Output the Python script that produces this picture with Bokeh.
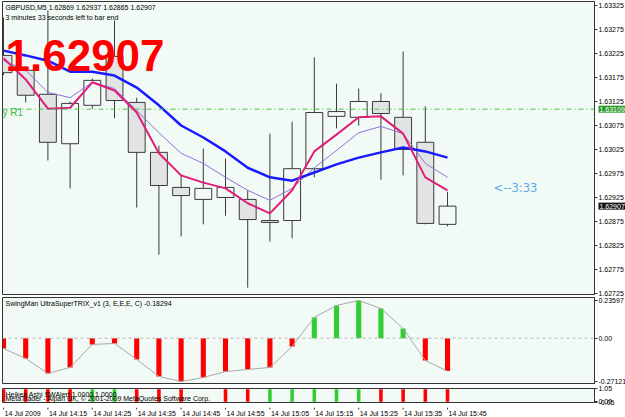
from bokeh.plotting import figure
from bokeh.layouts import column
from bokeh.models import FixedTicker, PrintfTickFormatter, Span, Label, Range1d, ColumnDataSource
from bokeh.embed import file_html
from bokeh.resources import INLINE
from bokeh.core.properties import value

# ---------------- data ----------------
bars = list(range(21))
time_tick_bars = [0, 2, 4, 6, 8, 10, 12, 14, 16, 18, 20]
time_tick_labels = ["14 Jul 2009", "14 Jul 14:15", "14 Jul 14:25", "14 Jul 14:35", "14 Jul 14:45",
                    "14 Jul 14:55", "14 Jul 15:05", "14 Jul 15:15", "14 Jul 15:25", "14 Jul 15:35",
                    "14 Jul 15:45"]

opens = [1.63221, 1.63190, 1.63140, 1.63037, 1.63117, 1.63219, 1.63123, 1.63019, 1.62946, 1.62921, 1.62925,
         1.62921, 1.62877, 1.62877, 1.62985, 1.63094, 1.63092, 1.63125, 1.63092, 1.63040, 1.62869]
highs = [1.63300, 1.63198, 1.63315, 1.63125, 1.63173, 1.63294, 1.63133, 1.63033, 1.62971, 1.63027, 1.63006,
         1.62940, 1.63058, 1.63083, 1.63217, 1.63162, 1.63152, 1.63142, 1.63229, 1.63115, 1.62937]
lows = [1.63180, 1.63123, 1.63002, 1.62944, 1.63110, 1.63090, 1.62904, 1.62806, 1.62844, 1.62869, 1.62887,
        1.62737, 1.62833, 1.62840, 1.62967, 1.63069, 1.63075, 1.62962, 1.62971, 1.62869, 1.62865]
closes = [1.63185, 1.63138, 1.63040, 1.63121, 1.63169, 1.63127, 1.63019, 1.62950, 1.62929, 1.62944, 1.62946,
          1.62879, 1.62873, 1.62985, 1.63102, 1.63104, 1.63125, 1.63100, 1.63025, 1.62871, 1.62907]

ma_blue = [1.63231, 1.63221, 1.63210, 1.63187, 1.63187, 1.63179, 1.63154, 1.63117, 1.63075, 1.63050, 1.63021,
           1.62987, 1.62967, 1.62960, 1.62977, 1.62994, 1.63008, 1.63019, 1.63029, 1.63021, 1.63008]
ma_pink = [1.63215, 1.63171, 1.63110, 1.63112, 1.63165, 1.63148, 1.63102, 1.63017, 1.62971, 1.62956, 1.62944,
           1.62913, 1.62892, 1.62940, 1.63021, 1.63056, 1.63092, 1.63094, 1.63058, 1.62967, 1.62940]
ma_purple = [1.63210, 1.63190, 1.63144, 1.63133, 1.63165, 1.63152, 1.63106, 1.63060, 1.63017, 1.62996, 1.62967,
             1.62940, 1.62919, 1.62944, 1.62987, 1.63023, 1.63060, 1.63073, 1.63058, 1.62996, 1.62967]

r1_level = 1.63109
price_ticks = [1.63325, 1.63275, 1.63225, 1.63175, 1.63125, 1.63075, 1.63025, 1.62975, 1.62925,
               1.62875, 1.62825, 1.62775, 1.62725]

trix = [-0.0645, -0.127, -0.221, -0.183, -0.039, -0.033, -0.133, -0.240, -0.27121, -0.246, -0.209,
        -0.196, -0.183, -0.052, 0.130, 0.205, 0.23597, 0.186, 0.061, -0.140, -0.206]
trix_title_value = -0.18294
trix_ticks = [0.23597, 0.0, -0.27121]

ha_signal = [-1, -1, -1, -1, 1, 1, -1, -1, -1, 0, -1, -1, 1, 1, 1, 1, 1, -1, -1, -1, -1]
ha_ticks = [1.05, 0.0, -0.05]

symbol = "GBPUSD,M5"
time_left = "3 minutes 33 seconds left to bar end"
countdown = "<--3:33"

# ---------------- style ----------------
BG = "#f2faf5"
FONT = "Liberation Sans"
FRAME_W = 592
X0, X1 = -0.045, 26.62


def style_right_axis(p, ticks, overrides=None, fmt="%.5f"):
    ax = p.yaxis[0]
    ax.ticker = FixedTicker(ticks=ticks)
    ax.formatter = PrintfTickFormatter(format=fmt)
    if overrides:
        ax.major_label_overrides = overrides
    ax.major_label_text_font = FONT
    ax.major_label_text_font_size = "7px"
    ax.major_label_text_color = "#000000"
    ax.major_tick_out = 3
    ax.major_tick_in = 0
    ax.minor_tick_out = 0
    ax.minor_tick_in = 0
    ax.major_label_standoff = 1
    ax.axis_line_color = "#333333"
    ax.major_tick_line_color = "#333333"
    p.xgrid.grid_line_color = None
    p.ygrid.grid_line_color = None


x_range = Range1d(X0, X1)

# ---------------- main price panel ----------------
p1 = figure(frame_width=FRAME_W, frame_height=293, x_range=x_range,
            y_range=Range1d(1.627229, 1.633333), output_backend="svg", toolbar_location=None,
            y_axis_location="right", x_axis_location=None,
            min_border_left=2, min_border_top=1, min_border_bottom=3, min_border_right=0,
            background_fill_color=BG, border_fill_color="white", outline_line_color="#333333")
style_right_axis(p1, price_ticks)

body_top = [max(o, c) for o, c in zip(opens, closes)]
body_bot = [min(o, c) for o, c in zip(opens, closes)]
body_fill = [BG if c >= o else "#e2e4e3" for o, c in zip(opens, closes)]
src = ColumnDataSource(dict(x=bars, o=opens, h=highs, l=lows, c=closes,
                            top=body_top, bot=body_bot, fill=body_fill))

p1.segment(x0="x", x1="x", y0="l", y1="h", source=src, line_color="#3a3a3a", line_width=1)
p1.vbar(x="x", top="top", bottom="bot", width=0.76, source=src, fill_color="fill",
        line_color="#3a3a3a", line_width=1)

p1.add_layout(Span(location=r1_level, dimension="width", line_color="#4cc24c",
                   line_width=1, line_dash="5 3 1 3"))

p1.line(bars, ma_purple, line_color="#9370db", line_width=1)
p1.line(bars, ma_blue, line_color="#1a1aff", line_width=2.5)
p1.line(bars, ma_pink, line_color="#e01e78", line_width=2)

# texts on main
p1.add_layout(Label(x=3, y=287, x_units="screen", y_units="screen",
                    text=f"{symbol}  {opens[-1]:.5f} {highs[-1]:.5f} {lows[-1]:.5f} {closes[-1]:.5f}",
                    text_font=FONT, text_font_size="7px", text_color="#000000",
                    text_baseline="middle", text_align="left"))
p1.add_layout(Label(x=3, y=277, x_units="screen", y_units="screen", text=time_left,
                    text_font=FONT, text_font_size="7px", text_color="#000000",
                    text_baseline="middle", text_align="left"))
p1.add_layout(Label(x=3, y=239, x_units="screen", y_units="screen", text=f"{closes[-1]:.5f}",
                    text_font=FONT, text_font_size="44px", text_font_style="bold",
                    text_color="#ff0000", text_baseline="middle", text_align="left"))
p1.add_layout(Label(x=0, y=182, x_units="screen", y_units="screen", text="y R1",
                    text_font=FONT, text_font_size="10px", text_color="#44b444",
                    text_baseline="middle", text_align="left"))
p1.add_layout(Label(x=491, y=107, x_units="screen", y_units="screen", text=countdown,
                    text_font="DejaVu Sans", text_font_size="11.5px", text_color="#55aaee",
                    text_baseline="middle", text_align="left"))

# price boxes on the axis strip (side panel so they are not clipped to the frame)
box_x = X1 + (4.0 / FRAME_W) * (X1 - X0)
p1.add_layout(Label(x=box_x, y=r1_level, x_units="data", y_units="data",
                    text=f"{r1_level:.5f}", text_font=FONT, text_font_size="7px",
                    text_color="#ffffff", background_fill_color="#2a9a2a",
                    text_baseline="middle", text_align="left", padding=1), "right")
p1.add_layout(Label(x=box_x, y=closes[-1], x_units="data", y_units="data",
                    text=f"{closes[-1]:.5f}", text_font=FONT, text_font_size="7px",
                    text_color="#ffffff", background_fill_color="#111111",
                    text_baseline="middle", text_align="left", padding=1), "right")

# ---------------- TRIX panel ----------------
p2 = figure(frame_width=FRAME_W, frame_height=87, x_range=x_range,
            y_range=Range1d(-0.2900, 0.2548), output_backend="svg", toolbar_location=None,
            y_axis_location="right", x_axis_location=None,
            min_border_left=2, min_border_top=0, min_border_bottom=0, min_border_right=0,
            background_fill_color=BG, border_fill_color="white", outline_line_color="#333333")
style_right_axis(p2, trix_ticks, overrides={0.23597: "0.23597", 0.0: "0.00", -0.27121: "-0.27121"})
p2.add_layout(Span(location=0, dimension="width", line_color="#b4b4b4", line_width=1, line_dash="3 3"))
trix_colors = ["#32cd32" if v >= 0 else "#ff0000" for v in trix]
p2.vbar(x=bars, top=trix, bottom=0, width=0.23, fill_color=trix_colors, line_color=None)
p2.line(bars, trix, line_color="#a8a8a8", line_width=1)
p2.add_layout(Label(x=3, y=81, x_units="screen", y_units="screen",
                    text=f"SwingMan UltraSuperTRIX_v1 (3, E,E,E, C) {trix_title_value:.5f}",
                    text_font=FONT, text_font_size="7px", text_color="#000000",
                    text_baseline="middle", text_align="left"))

# ---------------- Heiken Ashi panel ----------------
p3 = figure(frame_width=FRAME_W, frame_height=14, x_range=x_range,
            y_range=Range1d(-0.06, 1.06), output_backend="svg", toolbar_location=None,
            y_axis_location="right", x_axis_location=None,
            min_border_left=2, min_border_top=4, min_border_bottom=4, min_border_right=0,
            background_fill_color=BG, border_fill_color="white", outline_line_color="#333333")
style_right_axis(p3, ha_ticks, overrides={1.05: "1.05", 0.0: "0.00", -0.05: "-0.05"})
ha_x = [b for b, s in zip(bars, ha_signal) if s != 0]
ha_col = ["#32cd32" if s > 0 else "#ff0000" for s in ha_signal if s != 0]
p3.vbar(x=ha_x, top=1, bottom=0, width=0.16, fill_color=ha_col, line_color=None)
p3.add_layout(Label(x=3, y=8, x_units="screen", y_units="screen",
                    text="Heiken Ashi SWAlert 1.0000 1.0000",
                    text_font=FONT, text_font_size="7px", text_color="#000000",
                    text_baseline="middle", text_align="left"))
p3.add_layout(Label(x=3, y=4.5, x_units="screen", y_units="screen",
                    text="MetaTrader - Alpari UK, \u00a9 2001-2009 MetaQuotes Software Corp.",
                    text_font=FONT, text_font_size="7px", text_color="#000000",
                    text_baseline="middle", text_align="left"))

# ---------------- time axis strip ----------------
p4 = figure(frame_width=FRAME_W, frame_height=11, x_range=x_range, y_range=Range1d(0, 11),
            output_backend="svg", toolbar_location=None,
            y_axis_location=None, x_axis_location=None,
            min_border_left=2, min_border_top=0, min_border_bottom=0, min_border_right=0,
            background_fill_color="white", border_fill_color="white", outline_line_color=None)
p4.xgrid.grid_line_color = None
p4.ygrid.grid_line_color = None
p4.segment(x0=time_tick_bars, x1=time_tick_bars, y0=11, y1=9, line_color="#333333", line_width=1)
p4.text(x=time_tick_bars, y=5.5, text=time_tick_labels, text_font=value(FONT), text_font_size="7px",
        text_align="left", text_baseline="middle", x_offset=1, text_color="#000000")

layout = column(p1, p2, p3, p4, spacing=0)
open("out.html", "w").write(file_html(layout, INLINE))
